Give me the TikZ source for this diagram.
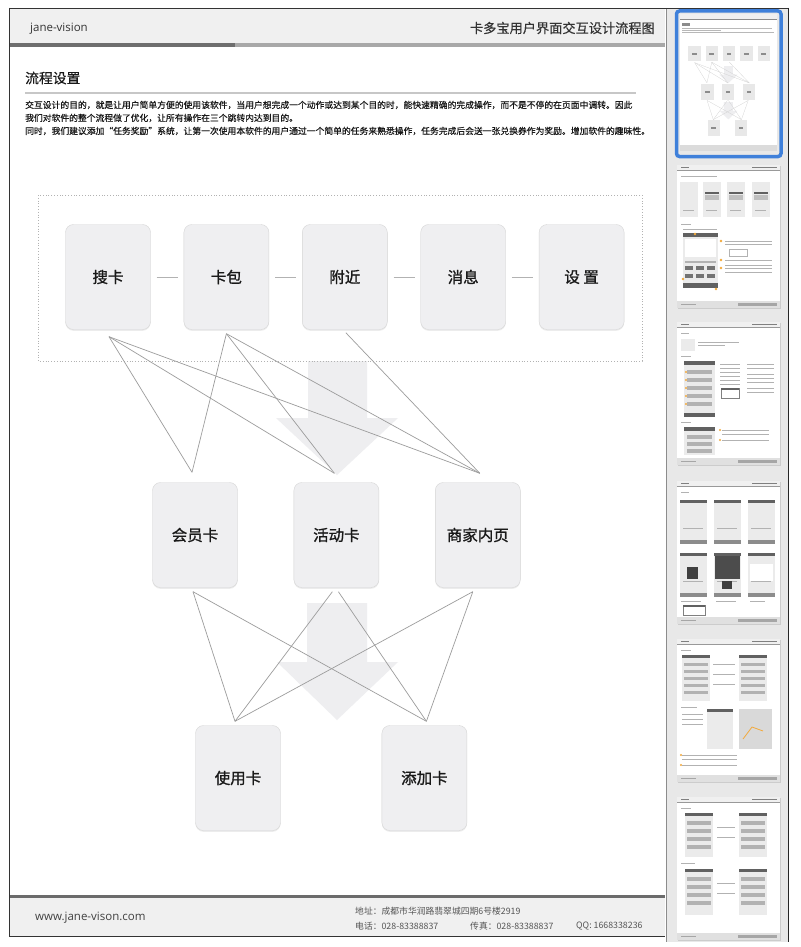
\documentclass[tikz,border=0pt]{standalone}
\usepackage{fontspec}
\setmainfont{Open Sans}
\newfontfamily\cjk{Noto Sans CJK SC}
\newfontfamily\cjkb{Noto Sans CJK SC}[FakeBold=1.1]
\newfontfamily\cjkp{Noto Sans CJK SC}[FakeBold=0.4]
\usetikzlibrary{positioning,shadows}

\definecolor{cardfill}{HTML}{EFEFF1}
\definecolor{cardline}{HTML}{D6D6D6}
\definecolor{wirecol}{HTML}{9C9C9C}
\definecolor{flowgray}{HTML}{EEEEF0}
\definecolor{bandgray}{HTML}{F0F0F0}
\definecolor{sidegray}{HTML}{E8E8E8}
\definecolor{selblue}{HTML}{3F80DA}
\definecolor{inkgray}{HTML}{333333}
\definecolor{footgray}{HTML}{555555}
\definecolor{markorange}{HTML}{F2A93B}

\begin{document}
\begin{tikzpicture}[x=1pt,y=-1pt,
    card/.style={draw=cardline,fill=cardfill,rounded corners=8pt,
      minimum width=85pt,minimum height=105pt,inner sep=0pt,
      text=black!90,font=\cjkb\fontsize{15.5}{18}\selectfont,
      drop shadow={shadow xshift=0pt,shadow yshift=-1.3pt,opacity=0.15}},
    wire/.style={draw=wirecol,line width=0.7pt},
    hlink/.style={draw=black!30,line width=0.8pt,shorten <=6pt,shorten >=6pt},
    txt/.style={inner sep=0pt,anchor=west},
    para/.style={txt,text=black!90,font=\cjkp\fontsize{8.8}{10}\selectfont},
    foot/.style={txt,text=footgray,font=\cjk\fontsize{8.8}{10}\selectfont},
    flow/.style={fill=flowgray},
    mini/.style={fill=black!8},
    minidark/.style={fill=black!62},
    miniline/.style={fill=black!30}]

  \pgfmathsetmacro{\gapTop}{33}
  \pgfmathsetmacro{\gapMid}{56}
  \pgfmathsetmacro{\gapLow}{101}

  \useasboundingbox (0,0) rectangle (800,947);
  \fill[white] (0,0) rectangle (800,947);

  \fill[sidegray] (666,8) rectangle (788,942);
  \draw[black!45] (666,8) -- (666,942);
  \draw[black!85] (788,8) -- (788,942);

  \fill[bandgray] (9,8) rectangle (665,43);
  \fill[black!57] (9,43) rectangle (235,47);
  \fill[black!34] (235,43) rectangle (665,47);
  \fill[bandgray] (9,897) rectangle (665,936);
  \fill[black!58] (9,895) rectangle (665,898);
  \draw[inkgray] (9,8) -- (788,8);
  \draw[inkgray] (9,8) -- (9,936) -- (665,936);

  \node[txt,text=inkgray,font=\fontsize{11.5}{14}\selectfont] (logo) at (30,29) {jane-vision};
  \node[txt,anchor=east,text=inkgray,font=\cjkp\fontsize{13.2}{15}\selectfont] (doctitle) at (655,28) {卡多宝用户界面交互设计流程图};
  \node[txt,text=black!90,font=\cjkp\fontsize{13.8}{17}\selectfont] (sect) at (25,78) {流程设置};
  \draw[black!22,line width=1.3pt] (25,93) -- (636,93);
  \node[para] (p1) at (25,105) {交互设计的目的，就是让用户简单方便的使用该软件，当用户想完成一个动作或达到某个目的时，能快速精确的完成操作，而不是不停的在页面中调转。因此};
  \node[para] (p2) at (25,118) {我们对软件的整个流程做了优化，让所有操作在三个跳转内达到目的。};
  \node[para] (p3) at (25,131) {同时，我们建议添加“任务奖励”系统，让第一次使用本软件的用户通过一个简单的任务来熟悉操作，任务完成后会送一张兑换券作为奖励。增加软件的趣味性。};

  \node[txt,text=black!75,font=\fontsize{11.5}{14}\selectfont] (site) at (35,918) {www.jane-vison.com};
  \node[foot] (addr) at (355,911) {地址：成都市华润路翡翠城四期6号楼2919};
  \node[foot] (tel) at (355,926) {电话：028-83388837};
  \node[foot] (fax) at (470,926) {传真：028-83388837};
  \node[foot] (qq) at (576,926) {QQ: 1668338236};

  \fill[flow] (308,361) -- (367,361) -- (367,418) -- (398,418) -- (337,475) -- (276,418) -- (308,418) -- cycle;
  \fill[flow] (307,603) -- (367,603) -- (367,662) -- (398,662) -- (337,720) -- (277,662) -- (307,662) -- cycle;
  \draw[black!30,dotted,line width=0.8pt] (38,195) rectangle (642,361);

  \node[card] (SK) at (108,277) {搜卡};
  \node[card,right=\gapTop pt of SK] (KB) {卡包};
  \node[card,right=\gapTop pt of KB] (FJ) {附近};
  \node[card,right=\gapTop pt of FJ] (XX) {消息};
  \node[card,right=\gapTop pt of XX] (SZ) {设 置};

  \node[card] (HY) at (195,535) {会员卡};
  \node[card,right=\gapMid pt of HY] (HD) {活动卡};
  \node[card,right=\gapMid pt of HD] (SJ) {商家内页};

  \node[card] (SY) at (238,778) {使用卡};
  \node[card,right=\gapLow pt of SY] (TJ) {添加卡};

  \draw[hlink] (SK.east) -- (KB.west);
  \draw[hlink] (KB.east) -- (FJ.west);
  \draw[hlink] (FJ.east) -- (XX.west);
  \draw[hlink] (XX.east) -- (SZ.west);

  \coordinate (A) at ([xshift=1pt,yshift=-7pt]SK.south);
  \coordinate (B) at ([yshift=-4pt]KB.south);
  \coordinate (C) at ([xshift=1pt,yshift=-3pt]FJ.south);
  \coordinate (P) at ([xshift=-3pt,yshift=10pt]HY.north);
  \coordinate (Q) at ([xshift=-2pt,yshift=9pt]HD.north);
  \coordinate (R) at ([xshift=2pt,yshift=9pt]SJ.north);
  \foreach \s/\t in {A/P,A/Q,A/R,B/P,B/Q,B/R,C/R}
    \draw[wire] (\s) -- (\t);

  \coordinate (D) at ([xshift=-2pt,yshift=-4pt]HY.south);
  \coordinate (E1) at ([xshift=-4pt,yshift=-4pt]HD.south);
  \coordinate (E2) at ([xshift=2pt,yshift=-4pt]HD.south);
  \coordinate (F) at ([xshift=-5pt,yshift=-4pt]SJ.south);
  \coordinate (G) at ([xshift=-3pt,yshift=4pt]SY.north);
  \coordinate (H) at ([xshift=2pt,yshift=4pt]TJ.north);
  \foreach \s/\t in {D/G,D/H,E1/G,E2/H,F/G,F/H}
    \draw[wire] (\s) -- (\t);

  \begin{scope}[shift={(678.5,12.8)},scale=0.148]
    \fill[white] (9,8) rectangle (665,936);
    \fill[bandgray] (9,8) rectangle (665,43);
    \fill[black!45] (9,43) rectangle (665,47);
    \fill[black!14] (9,896) rectangle (665,936);
    \fill[black!45] (25,70) rectangle (80,86);
    \foreach \lx/\ly in {633/105,290/118,643/131} \fill[black!28] (25,\ly-3) rectangle (\lx,\ly+3);
    \fill[flow] (308,361) -- (367,361) -- (367,418) -- (398,418) -- (337,475) -- (276,418) -- (308,418) -- cycle;
    \fill[flow] (307,603) -- (367,603) -- (367,662) -- (398,662) -- (337,720) -- (277,662) -- (307,662) -- cycle;
    \foreach \ax/\ay/\bx/\by in {109/337/192/473,109/337/333/474,109/337/478/474,225/334/192/473,225/334/333/474,225/334/478/474,343/333/478/474,193/592/235/722,193/592/425/722,331/592/235/722,337/592/425/722,471/592/235/722,471/592/425/722}
      \draw[black!18,line width=0.25pt] (\ax,\ay) -- (\bx,\by);
    \foreach \cx/\cy in {108/277,225/277,342/277,459/277,576/277,195/535,335/535,476/535,238/778,423/778}{
      \fill[black!9] (\cx-42,\cy-52) rectangle (\cx+42,\cy+52);
      \fill[black!45] (\cx-16,\cy-5) rectangle (\cx+16,\cy+5);
    }
  \end{scope}
  \draw[selblue,line width=3.5pt,rounded corners=3pt] (676.5,11) rectangle (781,156.5);

  \foreach \ty in {165,322,481,639,797}{
    \fill[black!20] (678,\ty+1) rectangle (781,\ty+144);
    \fill[white] (677,\ty) rectangle (780,\ty+143);
    \fill[bandgray] (677,\ty) rectangle (780,\ty+5);
    \fill[black!40] (677,\ty+5) rectangle (780,\ty+6);
    \fill[black!12] (677,\ty+136) rectangle (780,\ty+143);
    \fill[black!50] (681,\ty+2) rectangle (689,\ty+3);
    \fill[black!50] (752,\ty+2) rectangle (777,\ty+3);
    \fill[black!35] (681,\ty+139) rectangle (696,\ty+140);
    \fill[black!35] (738,\ty+138) rectangle (777,\ty+141);
  }

  \begin{scope}[shift={(677,165)}]
    \fill[miniline] (4,11) rectangle (40,12);
    \foreach \px in {3,26,50,75} {
      \fill[mini] (\px,17) rectangle (\px+18,52);
      \fill[miniline] (\px+3,45) rectangle (\px+14,46);
    }
    \foreach \px in {26,50,75} {
      \fill[minidark] (\px+2,27) rectangle (\px+16,29);
      \fill[black!25] (\px+2,30) rectangle (\px+16,35);
    }
    \fill[miniline] (4,59) rectangle (14,60);
    \fill[miniline] (6,64) rectangle (40,65);
    \fill[mini] (6,68) rectangle (41,123);
    \fill[minidark] (6,68) rectangle (41,72);
    \fill[white] (8,74) rectangle (39,92);
    \fill[miniline] (8,96) rectangle (39,98);
    \foreach \bx in {8,19,30} \foreach \by in {101,109} \fill[black!55] (\bx,\by) rectangle (\bx+8,\by+4);
    \fill[minidark] (6,118) rectangle (41,123);
    \foreach \ly in {76,79,95,100,103,107} \fill[miniline] (48,\ly) rectangle (95,\ly+1);
    \fill[white,draw=black!30,line width=0.3pt] (52,84) rectangle (70,91);
    \foreach \mx/\my in {18/69,44/76,44/95,44/103,6/114,39/124} \fill[markorange] (\mx,\my) circle (1.3pt);
  \end{scope}

  \begin{scope}[shift={(677,322)}]
    \fill[miniline] (4,11) rectangle (12,12);
    \fill[mini] (4,17) rectangle (18,29);
    \fill[miniline] (21,20) rectangle (62,21);
    \fill[miniline] (21,23) rectangle (48,24);
    \fill[miniline] (4,34) rectangle (14,35);
    \fill[mini] (7,39) rectangle (38,95);
    \fill[minidark] (7,39) rectangle (38,43);
    \foreach \ry in {48,56,64,72,80} {\fill[black!30] (10,\ry) rectangle (35,\ry+4); \fill[markorange] (9,\ry+2) circle (1.1pt);}
    \fill[minidark] (7,91) rectangle (38,95);
    \foreach \ly in {42,46,50,54,58,62} \fill[miniline] (43,\ly) rectangle (63,\ly+1);
    \fill[white,draw=black!50,line width=0.3pt] (44,66) rectangle (62,76);
    \fill[minidark] (44,66) rectangle (62,68);
    \foreach \ly in {42,46,52,56,60,66,70} \fill[miniline] (70,\ly) rectangle (97,\ly+1);
    \fill[miniline] (4,100) rectangle (14,101);
    \fill[mini] (7,105) rectangle (38,133);
    \fill[minidark] (7,105) rectangle (38,109);
    \foreach \ry in {113,120,127} \fill[black!30] (10,\ry) rectangle (35,\ry+4);
    \foreach \ly in {108,112,118} \fill[miniline] (45,\ly) rectangle (92,\ly+1);
    \foreach \my in {108,118} \fill[markorange] (43,\my) circle (1.1pt);
  \end{scope}

  \begin{scope}[shift={(677,481)}]
    \fill[miniline] (4,11) rectangle (12,12);
    \foreach \px in {3,37,71} \foreach \py in {19,72} {
      \fill[mini] (\px,\py) rectangle (\px+27,\py+44);
      \fill[minidark] (\px,\py) rectangle (\px+27,\py+3);
      \fill[black!45] (\px,\py+40) rectangle (\px+27,\py+44);
      \fill[miniline] (\px+3,\py+28) rectangle (\px+23,\py+29);
    }
    \fill[black!75] (10,86) rectangle (21,98);
    \fill[black!70] (38,75) rectangle (63,98);
    \fill[black!75] (45,100) rectangle (55,108);
    \fill[white] (73,83) rectangle (96,100);
    \fill[miniline] (4,120) rectangle (24,121);
    \fill[miniline] (39,120) rectangle (59,121);
    \fill[miniline] (73,120) rectangle (88,121);
    \fill[white,draw=black!50,line width=0.3pt] (6,124) rectangle (28,134);
    \fill[minidark] (6,124) rectangle (28,126);
  \end{scope}

  \begin{scope}[shift={(677,639)}]
    \fill[miniline] (4,11) rectangle (14,12);
    \fill[mini] (5,16) rectangle (33,62);
    \fill[minidark] (5,16) rectangle (33,19);
    \fill[mini] (62,16) rectangle (90,62);
    \fill[minidark] (62,16) rectangle (90,19);
    \foreach \ry in {24,31,38,45,52} {\fill[black!30] (7,\ry) rectangle (31,\ry+3); \fill[black!30] (64,\ry) rectangle (88,\ry+3);}
    \foreach \ly in {25,35,45} \fill[miniline] (36,\ly) rectangle (58,\ly+1);
    \fill[miniline] (4,68) rectangle (20,69);
    \fill[mini] (30,70) rectangle (56,110);
    \fill[minidark] (30,70) rectangle (56,73);
    \fill[black!15] (62,70) rectangle (95,110);
    \draw[markorange,line width=0.8pt] (66,100) -- (75,88) -- (86,92);
    \foreach \ly in {75,80,85} \fill[miniline] (5,\ly) rectangle (26,\ly+1);
    \foreach \ly in {116,120,126} \fill[miniline] (5,\ly) rectangle (60,\ly+1);
    \foreach \my in {116,126} \fill[markorange] (4,\my) circle (1.1pt);
  \end{scope}

  \begin{scope}[shift={(677,797)}]
    \fill[miniline] (4,11) rectangle (14,12);
    \fill[mini] (8,16) rectangle (36,60);
    \fill[minidark] (8,16) rectangle (36,19);
    \fill[mini] (62,16) rectangle (90,60);
    \fill[minidark] (62,16) rectangle (90,19);
    \foreach \ry in {24,32,40,48} {\fill[black!30] (10,\ry) rectangle (34,\ry+4); \fill[black!30] (64,\ry) rectangle (88,\ry+4);}
    \fill[miniline] (4,66) rectangle (18,67);
    \fill[mini] (8,72) rectangle (36,118);
    \fill[minidark] (8,72) rectangle (36,75);
    \fill[mini] (62,72) rectangle (90,118);
    \fill[minidark] (62,72) rectangle (90,75);
    \foreach \ry in {80,88,96,104} {\fill[black!30] (10,\ry) rectangle (34,\ry+4); \fill[black!30] (64,\ry) rectangle (88,\ry+4);}
    \foreach \ly in {30,40,86,96} \fill[miniline] (40,\ly) rectangle (58,\ly+1);
  \end{scope}
\end{tikzpicture}
\end{document}
